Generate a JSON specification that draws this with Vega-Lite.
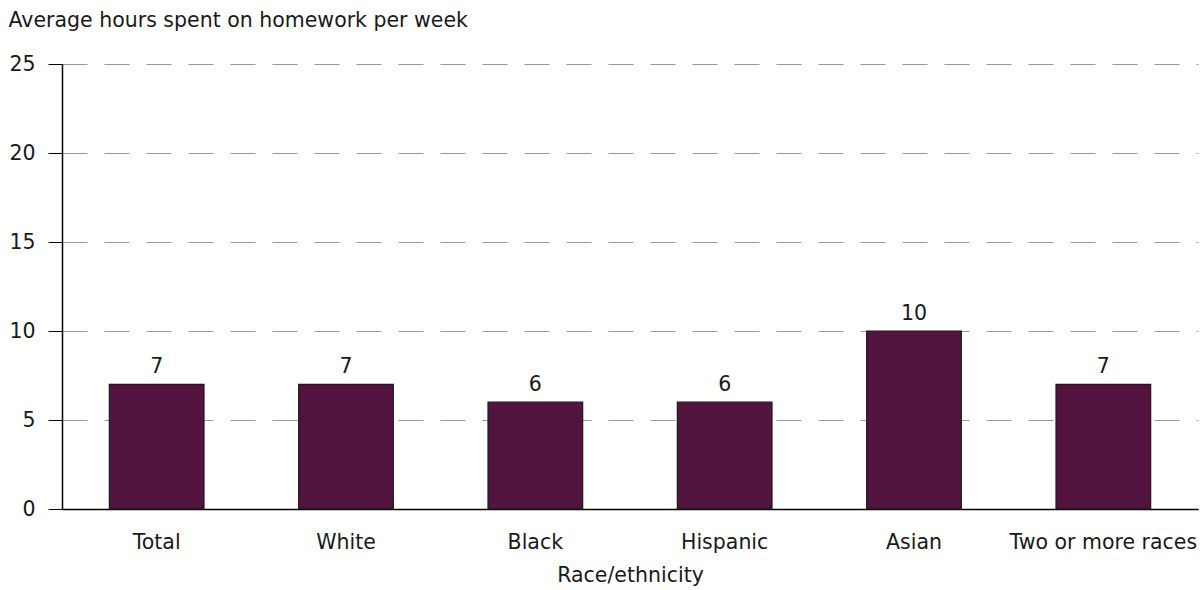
{
  "$schema": "https://vega.github.io/schema/vega-lite/v6.json",
  "autosize": "none",
  "width": 1136,
  "height": 445,
  "padding": {"left": 62, "top": 64, "right": 6, "bottom": 81},
  "background": "white",
  "config": {
    "font": "DejaVu Sans",
    "view": {"stroke": null},
    "axis": {"labelFont": "DejaVu Sans", "titleFont": "DejaVu Sans", "labelColor": "#1a1a1a", "titleColor": "#1a1a1a"}
  },
  "data": {"values": [
    {"race": "Total", "hours": 7},
    {"race": "White", "hours": 7},
    {"race": "Black", "hours": 6},
    {"race": "Hispanic", "hours": 6},
    {"race": "Asian", "hours": 10},
    {"race": "Two or more races", "hours": 7}
  ]},
  "encoding": {
    "x": {
      "field": "race", "type": "nominal", "sort": null,
      "scale": {"paddingInner": 0.5, "paddingOuter": 0.25},
      "axis": {
        "title": "Race/ethnicity", "titleFontSize": 20.5, "titleFontWeight": "normal", "titlePadding": 13,
        "labelAngle": 0, "labelFontSize": 20.5, "labelPadding": 23, "labelLimit": 400, "ticks": false,
        "domainColor": "#000000", "domainWidth": 1.5
      }
    },
    "y": {
      "field": "hours", "type": "quantitative",
      "scale": {"domain": [0, 25]},
      "axis": {
        "values": [0, 5, 10, 15, 20, 25],
        "title": "Average hours spent on homework per week",
        "titleAngle": 0, "titleAlign": "left", "titleBaseline": "top",
        "titleX": -54, "titleY": -54, "titleFontSize": 20.5, "titleFontWeight": "normal", "titleLimit": 1000,
        "labelFontSize": 20.5, "labelPadding": 13,
        "tickSize": 14, "tickColor": "#000000", "domainColor": "#000000", "domainWidth": 1.5,
        "grid": true, "gridDash": [25, 17], "gridColor": "#999999", "gridWidth": 1.2
      }
    }
  },
  "layer": [
    {"mark": {"type": "bar", "color": "#52133f", "stroke": "#1a1a1a", "strokeWidth": 1.2}},
    {"mark": {"type": "text", "baseline": "bottom", "dy": -7, "fontSize": 20.5, "color": "#1a1a1a"},
     "encoding": {"text": {"field": "hours", "type": "quantitative"}}}
  ]
}
